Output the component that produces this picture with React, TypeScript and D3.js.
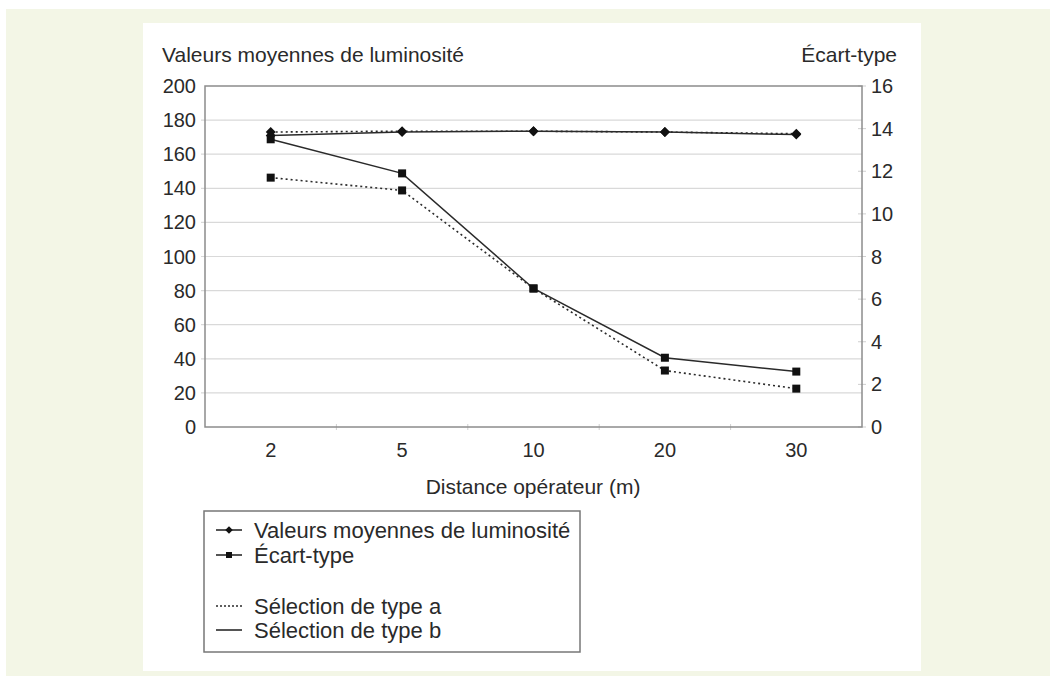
import React, { useEffect, useRef } from 'react';
import * as d3 from 'd3';

const distances = ['2', '5', '10', '20', '30'];
const leftTicks = [0, 20, 40, 60, 80, 100, 120, 140, 160, 180, 200];
const rightTicks = [0, 2, 4, 6, 8, 10, 12, 14, 16];

// valeurs moyennes de luminosité (axe gauche)
const lumTypeA = [173, 173.5, 173.5, 173, 172];
const lumTypeB = [171, 173, 173.5, 173, 171.5];
// écart-type (axe droit)
const ecartTypeA = [11.7, 11.1, 6.5, 2.65, 1.8];
const ecartTypeB = [13.5, 11.9, 6.5, 3.25, 2.6];

const App = () => {
  const svgRef = useRef(null);

  useEffect(() => {
    const svg = d3.select(svgRef.current);
    svg.selectAll('*').remove();

    const font = "'Liberation Sans', Arial, sans-serif";
    const ink = '#2a2a2a';
    const left = 205, right = 862, top = 86, bottom = 427;

    svg.append('rect').attr('x', 6).attr('y', 9).attr('width', 1044).attr('height', 667).attr('fill', '#f3f6e6');
    svg.append('rect').attr('x', 143).attr('y', 23).attr('width', 778).attr('height', 648).attr('fill', '#ffffff');

    const x = d3.scaleBand().domain(distances).range([left, right]);
    const yL = d3.scaleLinear().domain([0, 200]).range([bottom, top]);
    const yR = d3.scaleLinear().domain([0, 16]).range([bottom, top]);
    const cx = (d: string) => (x(d) as number) + x.bandwidth() / 2;

    // grid
    svg.append('g').selectAll('line').data(leftTicks.filter(t => t > 0 && t < 200)).enter().append('line')
      .attr('x1', left - 4).attr('x2', right).attr('y1', d => yL(d)).attr('y2', d => yL(d))
      .attr('stroke', '#d9d9d9').attr('stroke-width', 1.2);

    // right ticks
    svg.append('g').selectAll('line').data(rightTicks).enter().append('line')
      .attr('x1', right - 4).attr('x2', right + 4).attr('y1', d => yR(d)).attr('y2', d => yR(d))
      .attr('stroke', '#cfcfcf').attr('stroke-width', 1);

    // x ticks at band edges
    svg.append('g').selectAll('line').data(distances.slice(1)).enter().append('line')
      .attr('x1', d => x(d) as number).attr('x2', d => x(d) as number)
      .attr('y1', bottom - 3).attr('y2', bottom + 3)
      .attr('stroke', '#cfcfcf').attr('stroke-width', 1);

    // frame
    svg.append('rect').attr('x', left).attr('y', top).attr('width', right - left).attr('height', bottom - top)
      .attr('fill', 'none').attr('stroke', '#8c8c8c').attr('stroke-width', 1.5);

    // axis labels
    svg.append('g').selectAll('text').data(leftTicks).enter().append('text')
      .attr('x', 196).attr('y', d => yL(d)).attr('dy', '0.35em').attr('text-anchor', 'end')
      .style('font-family', font).style('font-size', '20px').attr('fill', ink).text(d => d);

    svg.append('g').selectAll('text').data(rightTicks).enter().append('text')
      .attr('x', 871).attr('y', d => yR(d)).attr('dy', '0.35em').attr('text-anchor', 'start')
      .style('font-family', font).style('font-size', '20px').attr('fill', ink).text(d => d);

    svg.append('g').selectAll('text').data(distances).enter().append('text')
      .attr('x', d => cx(d)).attr('y', 457).attr('text-anchor', 'middle')
      .style('font-family', font).style('font-size', '20px').attr('fill', ink).text(d => d);

    svg.append('text').attr('x', 162).attr('y', 62).style('font-family', font).style('font-size', '21px')
      .attr('fill', ink).text('Valeurs moyennes de luminosité');
    svg.append('text').attr('x', 897).attr('y', 62).attr('text-anchor', 'end').style('font-family', font)
      .style('font-size', '21px').attr('fill', ink).text('Écart-type');
    svg.append('text').attr('x', 533).attr('y', 494).attr('text-anchor', 'middle').style('font-family', font)
      .style('font-size', '21px').attr('fill', ink).text('Distance opérateur (m)');

    const series = [
      { values: lumTypeA, scale: yL, dashed: true, marker: 'diamond' },
      { values: lumTypeB, scale: yL, dashed: false, marker: 'diamond' },
      { values: ecartTypeA, scale: yR, dashed: true, marker: 'square' },
      { values: ecartTypeB, scale: yR, dashed: false, marker: 'square' },
    ];

    const drawMarker = (marker: string | null, px: number, py: number, s: number) => {
      if (marker === 'square') {
        svg.append('rect').attr('x', px - s / 2).attr('y', py - s / 2).attr('width', s).attr('height', s).attr('fill', '#111');
      } else if (marker === 'diamond') {
        const h = s * 0.62;
        svg.append('path').attr('d', `M${px},${py - h}L${px + h},${py}L${px},${py + h}L${px - h},${py}Z`).attr('fill', '#111');
      }
    };

    series.forEach(s => {
      const pts = s.values.map((v, i) => [cx(distances[i]), s.scale(v)] as [number, number]);
      svg.append('path').attr('d', d3.line()(pts)).attr('fill', 'none').attr('stroke', ink)
        .attr('stroke-width', s.dashed ? 1.6 : 1.5).attr('stroke-dasharray', s.dashed ? '2,3' : null);
      pts.forEach(p => drawMarker(s.marker, p[0], p[1], 8));
    });

    // legend
    svg.append('rect').attr('x', 204).attr('y', 511).attr('width', 376).attr('height', 141)
      .attr('fill', 'none').attr('stroke', '#777').attr('stroke-width', 1.5);
    const legend = [
      { label: 'Valeurs moyennes de luminosité', y: 530, marker: 'diamond', dashed: false },
      { label: 'Écart-type', y: 555, marker: 'square', dashed: false },
      { label: 'Sélection de type a', y: 606, marker: null, dashed: true },
      { label: 'Sélection de type b', y: 630, marker: null, dashed: false },
    ];
    legend.forEach(l => {
      svg.append('line').attr('x1', 216).attr('x2', 242).attr('y1', l.y).attr('y2', l.y)
        .attr('stroke', ink).attr('stroke-width', l.dashed ? 1.3 : 1.6).attr('stroke-dasharray', l.dashed ? '2,2' : null);
      drawMarker(l.marker, 229, l.y, 6);
      svg.append('text').attr('x', 254).attr('y', l.y).attr('dy', '0.35em').style('font-family', font)
        .style('font-size', '22px').attr('fill', ink).text(l.label);
    });
  }, []);

  return (
    <svg ref={svgRef} width={1050} height={676} style={{ position: 'absolute', left: 0, top: 0 }} />
  );
};

export default App;
